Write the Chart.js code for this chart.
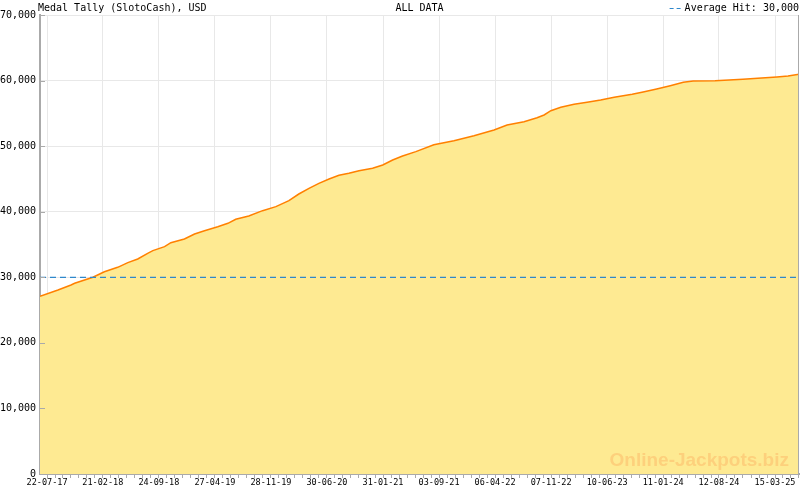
<!DOCTYPE html>
<html>
<head>
<meta charset="utf-8">
<script src="https://cdn.jsdelivr.net/npm/chart.js@4.4.1/dist/chart.umd.min.js"></script>
<style>
html, body { margin: 0; padding: 0; background: #fff; }
canvas { display: block; }
</style>
</head>
<body>
<canvas id="tally" width="800" height="490"></canvas>
<script>
// medal tally over time
var dates = [
  '2017-06-25', '2017-09-02', '2017-10-22', '2017-11-05', '2018-01-14', '2018-02-27',
  '2018-04-19', '2018-05-28', '2018-07-05', '2018-08-12', '2018-09-01', '2018-10-16',
  '2018-11-09', '2018-12-31', '2019-02-08', '2019-03-18', '2019-05-08', '2019-06-16',
  '2019-07-16', '2019-09-04', '2019-10-27', '2019-12-17', '2020-02-05', '2020-03-14',
  '2020-04-22', '2020-05-30', '2020-07-08', '2020-08-15', '2020-09-22', '2020-10-31',
  '2020-12-22', '2021-01-30', '2021-03-09', '2021-04-16', '2021-06-06', '2021-08-14',
  '2021-10-30', '2022-01-15', '2022-04-02', '2022-05-22', '2022-07-26', '2022-09-14',
  '2022-10-11', '2022-11-06', '2022-12-14', '2023-02-03', '2023-03-25', '2023-05-16',
  '2023-07-07', '2023-09-14', '2023-10-26', '2023-12-17', '2024-02-07', '2024-03-28',
  '2024-05-05', '2024-07-28', '2024-11-12', '2025-01-08', '2025-03-22', '2025-05-04',
  '2025-06-15'
];
var tally = [
  27100, 28060, 28820, 29080, 30000, 30850,
  31520, 32230, 32790, 33660, 34060, 34670,
  35280, 35840, 36600, 37100, 37710, 38230,
  38840, 39350, 40160, 40770, 41680, 42700,
  43570, 44330, 44990, 45550, 45860, 46260,
  46630, 47130, 47890, 48500, 49160, 50200,
  50830, 51590, 52460, 53220, 53730, 54340,
  54750, 55410, 55920, 56380, 56690, 57030,
  57450, 57900, 58260, 58720, 59220, 59740,
  59940, 59990, 60200, 60350, 60550, 60700,
  60960
];
var tickLabels = ['22-07-17', '21-02-18', '24-09-18', '27-04-19', '28-11-19', '30-06-20', '31-01-21',
  '03-09-21', '06-04-22', '07-11-22', '10-06-23', '11-01-24', '12-08-24', '15-03-25'];
var avgHit = 30000;
var xStart = '2017-06-25';
var xEnd = '2025-06-15';

function isoDay(s) {
  var p = s.split('-');
  return Date.UTC(+p[0], +p[1] - 1, +p[2]) / 86400000;
}
function labelDay(s) {
  var p = s.split('-');
  return Date.UTC(2000 + +p[2], +p[1] - 1, +p[0]) / 86400000;
}

var minDay = isoDay(xStart), maxDay = isoDay(xEnd);
var majorDays = tickLabels.map(labelDay);

// major ticks at the labels, 6 minor ticks between each pair
function buildXTicks() {
  var out = [];
  var step = (majorDays[1] - majorDays[0]) / 7;
  for (var d = majorDays[0] - step; d >= minDay; d -= step) out.unshift({ value: d, major: false });
  for (var i = 0; i < majorDays.length; i++) {
    out.push({ value: majorDays[i], major: true, label: tickLabels[i] });
    if (i < majorDays.length - 1) {
      var s = (majorDays[i + 1] - majorDays[i]) / 7;
      for (var k = 1; k < 7; k++) out.push({ value: majorDays[i] + k * s, major: false });
    }
  }
  var last = majorDays[majorDays.length - 1];
  for (var d2 = last + step; d2 <= maxDay; d2 += step) out.push({ value: d2, major: false });
  return out;
}

var points = dates.map(function (d, i) { return { x: isoDay(d), y: tally[i] }; });
var avgLine = [{ x: minDay, y: avgHit }, { x: maxDay, y: avgHit }];

var mono = 'DejaVu Sans Mono';
var avgColor = '#2f88cc';

var chrome = {
  id: 'chrome',
  afterDatasetsDraw: function (chart) {
    var c = chart.ctx, a = chart.chartArea;
    c.save();
    c.font = 'bold 19px "Liberation Sans", Arial, sans-serif';
    c.fillStyle = '#fdd07c';
    c.textAlign = 'right';
    c.textBaseline = 'alphabetic';
    c.fillText('Online-Jackpots.biz', a.right - 10, a.bottom - 8);
    c.restore();
  },
  afterDraw: function (chart) {
    var c = chart.ctx, a = chart.chartArea, y = chart.scales.y;
    c.save();
    // short inward ticks on the value axis
    c.strokeStyle = '#aaaaaa';
    c.lineWidth = 1;
    y.ticks.forEach(function (t) {
      var py = Math.round(y.getPixelForValue(t.value)) + 0.5;
      c.beginPath(); c.moveTo(a.left, py); c.lineTo(a.left + 5, py); c.stroke();
    });
    // right frame line
    c.beginPath(); c.moveTo(a.right - 0.5, a.top); c.lineTo(a.right - 0.5, a.bottom); c.stroke();

    c.font = '10px "' + mono + '"';
    c.fillStyle = '#000';
    c.textBaseline = 'middle';
    c.textAlign = 'left';
    c.fillText('Medal Tally (SlotoCash), USD', 38, 8);
    c.textAlign = 'center';
    c.fillText('ALL DATA', (a.left + a.right) / 2, 8);
    c.textAlign = 'right';
    var txt = 'Average Hit: ' + avgHit.toLocaleString('en-US');
    c.fillText(txt, a.right, 8);
    var tw = c.measureText(txt).width;
    c.strokeStyle = avgColor;
    c.setLineDash([4, 3]);
    c.beginPath(); c.moveTo(a.right - tw - 15, 8.5); c.lineTo(a.right - tw - 2, 8.5); c.stroke();
    c.restore();
  }
};

new Chart(document.getElementById('tally'), {
  type: 'line',
  data: {
    datasets: [{
      data: avgLine,
      borderColor: avgColor,
      borderWidth: 1.2,
      borderDash: [6, 4],
      pointRadius: 0,
      fill: false
    }, {
      data: points,
      borderColor: '#ff8000',
      borderWidth: 1.5,
      backgroundColor: '#feea92',
      pointRadius: 0,
      tension: 0,
      fill: 'origin'
    }]
  },
  options: {
    responsive: false,
    animation: false,
    layout: { padding: { top: 15, right: 1, left: 0, bottom: 0 } },
    plugins: { legend: { display: false }, tooltip: { enabled: false } },
    scales: {
      x: {
        type: 'linear',
        min: minDay,
        max: maxDay,
        afterBuildTicks: function (scale) { scale.ticks = buildXTicks(); },
        afterFit: function (scale) { scale.height = 16; },
        border: { color: '#aaaaaa', width: 2 },
        grid: {
          color: function (ctx) { return ctx.tick && ctx.tick.major ? '#e8e8e8' : 'rgba(0,0,0,0)'; },
          tickColor: '#aaaaaa',
          tickLength: 4
        },
        ticks: {
          autoSkip: false,
          maxRotation: 0,
          padding: 0,
          color: '#000',
          font: { family: mono, size: 8.5 },
          callback: function (v, i, ticks) { return ticks[i].label || ''; }
        }
      },
      y: {
        min: 0,
        max: 70000,
        afterFit: function (scale) { scale.width = 40; },
        border: { color: '#aaaaaa', width: 2 },
        grid: { color: '#e8e8e8', drawTicks: false },
        ticks: {
          stepSize: 10000,
          padding: 4,
          color: '#000',
          font: { family: mono, size: 10 },
          callback: function (v) { return v.toLocaleString('en-US'); }
        }
      }
    }
  },
  plugins: [chrome]
});
</script>
</body>
</html>
